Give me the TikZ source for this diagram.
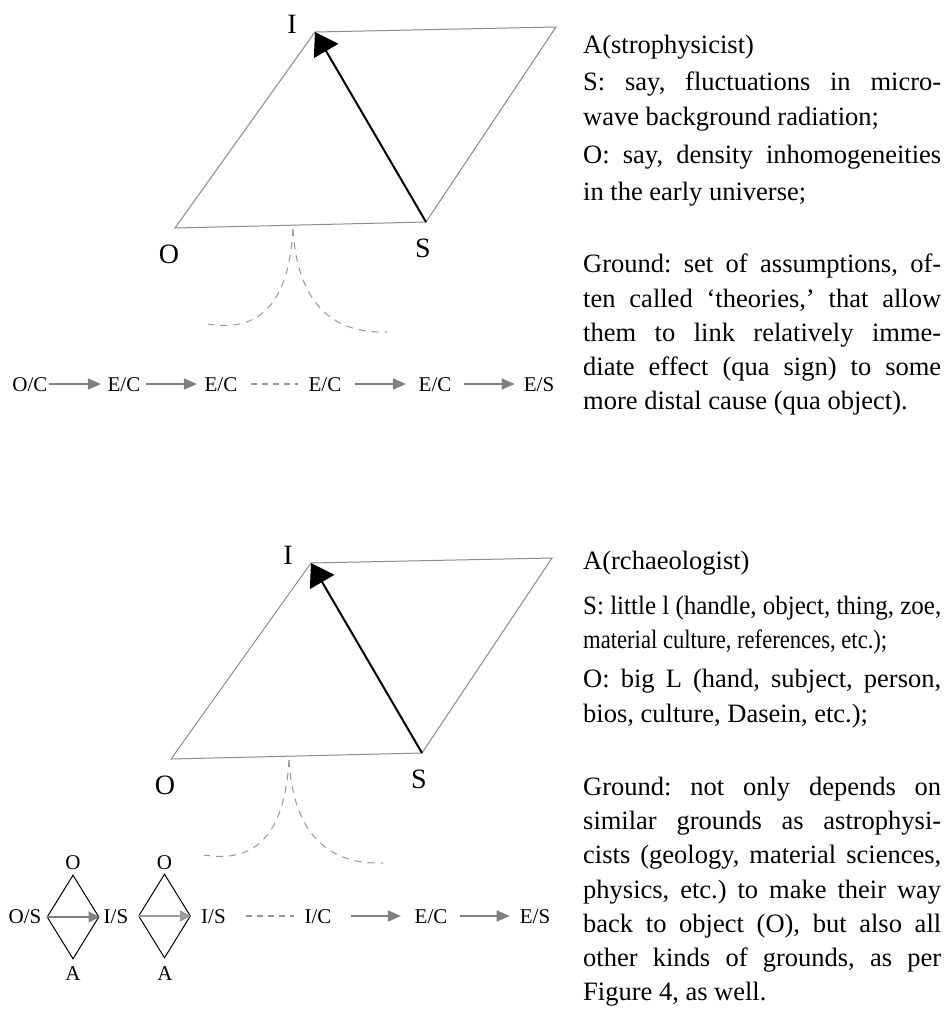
\documentclass[tikz,border=0pt]{standalone}
\usepackage{fontspec}
\usepackage{graphicx}
\usetikzlibrary{arrows.meta,shapes.geometric}
\setmainfont{Liberation Serif}
\newfontfamily\labfont{Liberation Serif}
\definecolor{edgegray}{RGB}{140,140,140}
\definecolor{flowgray}{RGB}{128,128,128}
\definecolor{lightflow}{RGB}{155,155,155}
\definecolor{tracegray}{RGB}{150,150,150}
\frenchspacing
\begin{document}
\begin{tikzpicture}[x=1pt,y=-1pt,
  sideline/.style={draw=edgegray, line width=1pt, line join=miter},
  bigarrow/.style={draw=black, line width=2pt, -{Triangle[length=22pt,width=28pt]}},
  cornerlbl/.style={font=\labfont\fontsize{28}{28}\selectfont, inner sep=0pt},
  chainlbl/.style={font=\labfont\fontsize{21}{21}\selectfont, inner sep=0pt, text height=14pt, text depth=0pt, anchor=base},
  flowarrow/.style={draw=flowgray, line width=1.6pt, -{Triangle[length=13pt,width=11pt]}},
  dashlink/.style={draw=tracegray, line width=1.2pt, dash pattern=on 6pt off 5pt},
  tracecurve/.style={draw=tracegray, line width=1pt, dash pattern=on 7pt off 6pt},
  rhomb/.style={diamond, draw=black, line width=1pt, minimum width=52pt, minimum height=84pt, inner sep=0pt},
  txt/.style={font=\fontsize{26.5}{34}\selectfont, inner sep=0pt, anchor=base west},
]
\useasboundingbox[fill=white] (0,0) rectangle (948,1010);

% ---------- upper sign triangle ----------
\coordinate (tO) at (175,228);
\coordinate (tI) at (315,32);
\coordinate (tR) at (556,27);
\coordinate (tS) at (426,222);
\draw[sideline] (tO) -- (tI) -- (tR) -- (tS) -- cycle;
\draw[bigarrow] (tS) -- (tI);
\node[cornerlbl] (tIl) at (292,24) {I};
\node[cornerlbl] (tOl) at (169,254) {O};
\node[cornerlbl] (tSl) at (423,248) {S};
\coordinate (tG) at (293,229);
\coordinate (tL) at (208,324);
\coordinate (tE) at (387,332);
\draw[tracecurve] (tG) .. controls (289,300) and (262,333) .. (tL);
\draw[tracecurve] (tG) .. controls (297,300) and (330,334) .. (tE);

% ---------- upper chain ----------
\node[chainlbl] (oc)  at (30,391)  {O/C};
\node[chainlbl] (ec1) at (124,391) {E/C};
\node[chainlbl] (ec2) at (221,391) {E/C};
\node[chainlbl] (ec3) at (325,391) {E/C};
\node[chainlbl] (ec4) at (435,391) {E/C};
\node[chainlbl] (es)  at (539,391) {E/S};
\draw[flowarrow, shorten <=1pt, shorten >=6.5pt] (oc.east) -- (ec1.west);
\draw[flowarrow, shorten <=5.5pt, shorten >=7.5pt] (ec1.east) -- (ec2.west);
\draw[dashlink, shorten <=13.5pt, shorten >=10.5pt] (ec2.east) -- (ec3.west);
\draw[flowarrow, shorten <=13.5pt, shorten >=12.5pt] (ec3.east) -- (ec4.west);
\draw[flowarrow, shorten <=12.5pt, shorten >=9pt] (ec4.east) -- (es.west);

% ---------- lower sign triangle ----------
\begin{scope}[shift={(-4,531)}]
\coordinate (bO) at (175,228);
\coordinate (bI) at (315,32);
\coordinate (bR) at (556,27);
\coordinate (bS) at (426,222);
\draw[sideline] (bO) -- (bI) -- (bR) -- (bS) -- cycle;
\draw[bigarrow] (bS) -- (bI);
\node[cornerlbl] (bIl) at (292,24) {I};
\node[cornerlbl] (bOl) at (169,254) {O};
\node[cornerlbl] (bSl) at (423,248) {S};
\coordinate (bG) at (293,229);
\coordinate (bL) at (208,324);
\coordinate (bE) at (387,332);
\draw[tracecurve] (bG) .. controls (289,300) and (262,333) .. (bL);
\draw[tracecurve] (bG) .. controls (297,300) and (330,334) .. (bE);
\end{scope}

% ---------- lower chain ----------
\node[rhomb] (d1) at (73,917) {};
\node[rhomb] (d2) at (164.5,916) {};
\node[chainlbl] (d1o) at (73,869) {O};
\node[chainlbl] (d1a) at (73,980) {A};
\node[chainlbl] (d2o) at (164.5,869) {O};
\node[chainlbl] (d2a) at (165,980) {A};
\node[chainlbl] (os)  at (25,923)  {O/S};
\node[chainlbl] (is1) at (116,923) {I/S};
\node[chainlbl] (is2) at (213.5,923) {I/S};
\node[chainlbl] (ic)  at (318,923) {I/C};
\node[chainlbl] (ec5) at (431,923) {E/C};
\node[chainlbl] (es2) at (535,923) {E/S};
\draw[flowarrow, line width=1.4pt, -{Triangle[length=11pt,width=11pt]}] (d1.west) -- (d1.east);
\draw[flowarrow, draw=lightflow, line width=1.4pt, -{Triangle[length=11pt,width=11pt]}] (d2.west) -- (d2.east);
\draw[dashlink, shorten <=20.5pt, shorten >=10.5pt] (is2.east) -- (ic.west);
\draw[flowarrow, shorten <=19.5pt, shorten >=13.5pt] (ic.east) -- (ec5.west);
\draw[flowarrow, shorten <=12.5pt, shorten >=10pt] (ec5.east) -- (es2.west);

% ---------- upper commentary ----------
\node[txt] (t1)  at (583,53)  {A(strophysicist)};
\node[txt] (t2)  at (583,90)  {\makebox[358pt][s]{S: say, fluctuations in micro-}};
\node[txt] (t3)  at (583,125) {wave background radiation;};
\node[txt] (t4)  at (583,163) {\makebox[358pt][s]{O: say, density inhomogeneities}};
\node[txt] (t5)  at (583,200) {in the early universe;};
\node[txt] (t6)  at (583,272) {\makebox[358pt][s]{Ground: set of assumptions, of-}};
\node[txt] (t7)  at (583,307) {\makebox[358pt][s]{ten called `theories,' that allow}};
\node[txt] (t8)  at (583,341) {\makebox[358pt][s]{them to link relatively imme-}};
\node[txt] (t9)  at (583,375) {\makebox[358pt][s]{diate effect (qua sign) to some}};
\node[txt] (t10) at (583,409) {more distal cause (qua object).};

% ---------- lower commentary ----------
\node[txt] (b1)  at (583,569)  {A(rchaeologist)};
\node[txt] (b2)  at (583,614)  {\resizebox{358pt}{\height}{S: little l (handle, object, thing, zoe,}};
\node[txt] (b3)  at (583,648)  {\resizebox{304pt}{\height}{material culture, references, etc.);}};
\node[txt] (b4)  at (583,687)  {\makebox[358pt][s]{O: big L (hand, subject, person,}};
\node[txt] (b5)  at (583,722)  {bios, culture, Dasein, etc.);};
\node[txt] (b6)  at (583,795)  {\makebox[358pt][s]{Ground: not only depends on}};
\node[txt] (b7)  at (583,829)  {\makebox[358pt][s]{similar grounds as astrophysi-}};
\node[txt] (b8)  at (583,863)  {\makebox[358pt][s]{cists (geology, material sciences,}};
\node[txt] (b9)  at (583,898)  {\makebox[358pt][s]{physics, etc.) to make their way}};
\node[txt] (b10) at (583,932)  {\makebox[358pt][s]{back to object (O), but also all}};
\node[txt] (b11) at (583,966)  {\makebox[358pt][s]{other kinds of grounds, as per}};
\node[txt] (b12) at (583,1000) {Figure 4, as well.};
\end{tikzpicture}
\end{document}
